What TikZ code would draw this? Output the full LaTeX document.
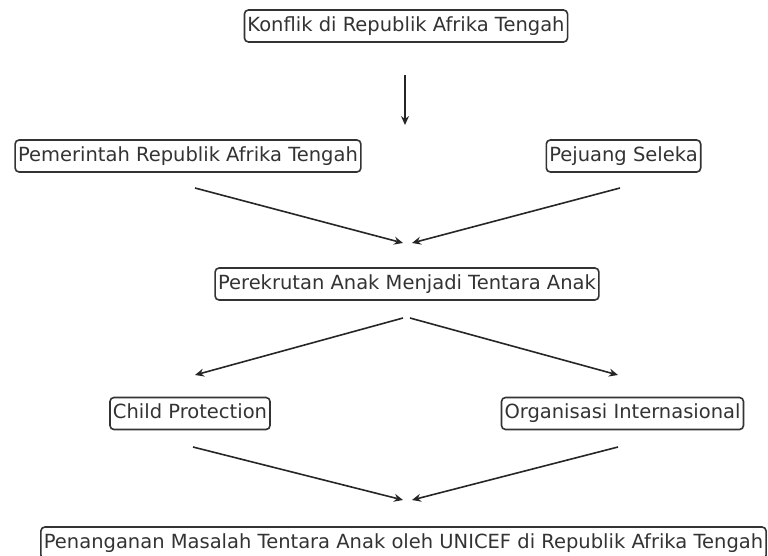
\documentclass[tikz,border=0pt]{standalone}
\usepackage{fontspec}
\setmainfont{DejaVu Sans}
\usetikzlibrary{arrows.meta}
\begin{document}
\begin{tikzpicture}[x=1pt,y=-1pt,
  box/.style={draw=black!80, line width=1.6pt, rounded corners=4pt, text=black!80,
    font=\fontsize{19.5}{21}\selectfont, inner xsep=3pt, inner ysep=0pt,
    minimum height=32pt, text height=15pt, text depth=4.5pt},
  arr/.style={draw=black!85, line width=1.6pt, -{Stealth[length=9pt,width=8pt,inset=3pt]}}]
\useasboundingbox (0,0) rectangle (768,555);
\node[box] (konf) at (406,26) {Konflik di Republik Afrika Tengah};
\node[box] (pem) at (188,156) {Pemerintah Republik Afrika Tengah};
\node[box] (sel) at (623.5,156) {Pejuang Seleka};
\node[box] (rek) at (407,284) {Perekrutan Anak Menjadi Tentara Anak};
\node[box] (cp) at (190,413.5) {Child Protection};
\node[box] (org) at (622.5,413.5) {Organisasi Internasional};
\node[box] (pen) at (403.5,543) {Penanganan Masalah Tentara Anak oleh UNICEF di Republik Afrika Tengah};
\coordinate (a1s) at (405,75);
\coordinate (a1e) at (405,125);
\coordinate (a2s) at (195,188);
\coordinate (a2e) at (403,243);
\coordinate (a3s) at (620,188);
\coordinate (a3e) at (412,243);
\coordinate (a4s) at (403,318);
\coordinate (a4e) at (195,375);
\coordinate (a5s) at (410,318);
\coordinate (a5e) at (618,375);
\coordinate (a6s) at (193,447);
\coordinate (a6e) at (403,500);
\coordinate (a7s) at (618,447);
\coordinate (a7e) at (412,500);
\draw[arr] (a1s) -- (a1e);
\draw[arr] (a2s) -- (a2e);
\draw[arr] (a3s) -- (a3e);
\draw[arr] (a4s) -- (a4e);
\draw[arr] (a5s) -- (a5e);
\draw[arr] (a6s) -- (a6e);
\draw[arr] (a7s) -- (a7e);
\end{tikzpicture}
\end{document}
